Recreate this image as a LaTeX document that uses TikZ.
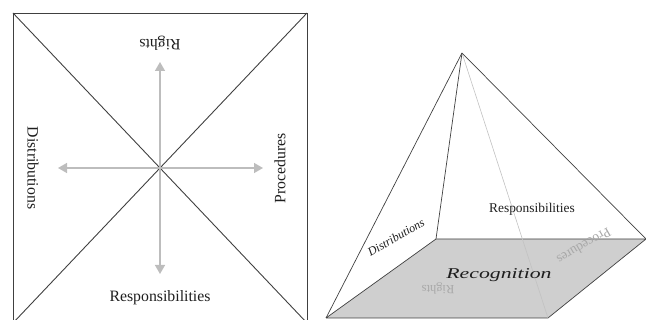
\documentclass[tikz,border=0pt]{standalone}
\usepackage{fontspec}
\setmainfont{Liberation Serif}
\usetikzlibrary{arrows.meta}
\definecolor{edge}{HTML}{404040}
\definecolor{arr}{HTML}{BDBDBD}
\definecolor{basefill}{HTML}{CFCFCF}
\definecolor{ghost}{HTML}{A8A8A8}
\definecolor{ink}{HTML}{1E1E1E}
\tikzset{
  frame/.style={draw=edge,line width=0.9pt},
  axis/.style={draw=arr,line width=1.4pt,-{Triangle[length=9pt,width=10pt]}},
  lab/.style={text=ink,inner sep=0pt,font=\fontsize{15.8}{18}\selectfont},
  plab/.style={text=ink,inner sep=0pt,font=\fontsize{13.4}{16}\selectfont},
  glab/.style={text=ghost,inner sep=0pt,font=\fontsize{12.5}{15}\selectfont},
  hidden/.style={draw=ghost!70,line width=0.6pt}
}
\begin{document}
\begin{tikzpicture}[x=1pt,y=-1pt]
\useasboundingbox (0,0) rectangle (646,320);
\begin{scope}
\clip (0,0) rectangle (646,320);
% ---------- left square ----------
\coordinate (tl) at (13,13);
\coordinate (tr) at (307,13);
\coordinate (bl) at (13,323);
\coordinate (br) at (307,323);
\coordinate (c) at (160,168);
\draw[frame] (tl) -- (tr) -- (br) -- (bl) -- cycle;
\draw[frame] (tl) -- (br);
\draw[frame] (tr) -- (bl);
\coordinate (au) at (160,62);
\coordinate (ad) at (160,274);
\coordinate (al) at (58,168);
\coordinate (ar) at (263,168);
\draw[axis] (c) -- (au);
\draw[axis] (c) -- (ad);
\draw[axis] (c) -- (al);
\draw[axis] (c) -- (ar);
\node[lab,rotate=180] (rights) at (160,43) {Rights};
\node[lab,rotate=-90] (dist) at (33,168) {Distributions};
\node[lab,rotate=90] (proc) at (280,168) {Procedures};
\node[lab] (resp) at (160,298) {Responsibilities};
% ---------- right pyramid ----------
\coordinate (apex) at (462,53);
\coordinate (fl) at (326,318);
\coordinate (bkl) at (436,239);
\coordinate (bkr) at (646,239);
\coordinate (fr) at (548,318);
\fill[basefill] (fl) -- (bkl) -- (bkr) -- (fr) -- cycle;
\draw[edge,line width=0.7pt] (fl) -- (bkl) -- (bkr) -- (fr) -- (fl);
\draw[hidden] (apex) -- (fr);
\draw[edge,line width=0.7pt] (apex) -- (fl);
\draw[edge,line width=0.7pt] (apex) -- (bkl);
\draw[edge,line width=0.7pt] (apex) -- (bkr);
\node[plab,font=\fontsize{12}{14}\selectfont\itshape,rotate=30] (pdist) at (396,237) {Distributions};
\node[plab] (presp) at (532,209) {Responsibilities};
\node[glab,rotate=180] (prights) at (438,288) {Rights};
\node[glab,font=\fontsize{13.5}{15}\selectfont,rotate=210] (pproc) at (584,246) {Procedures};
\node[text=ink,inner sep=0pt,font=\fontsize{15}{17}\selectfont\itshape,xscale=1.45] (recog) at (499,275) {Recognition};
\end{scope}
\end{tikzpicture}
\end{document}
